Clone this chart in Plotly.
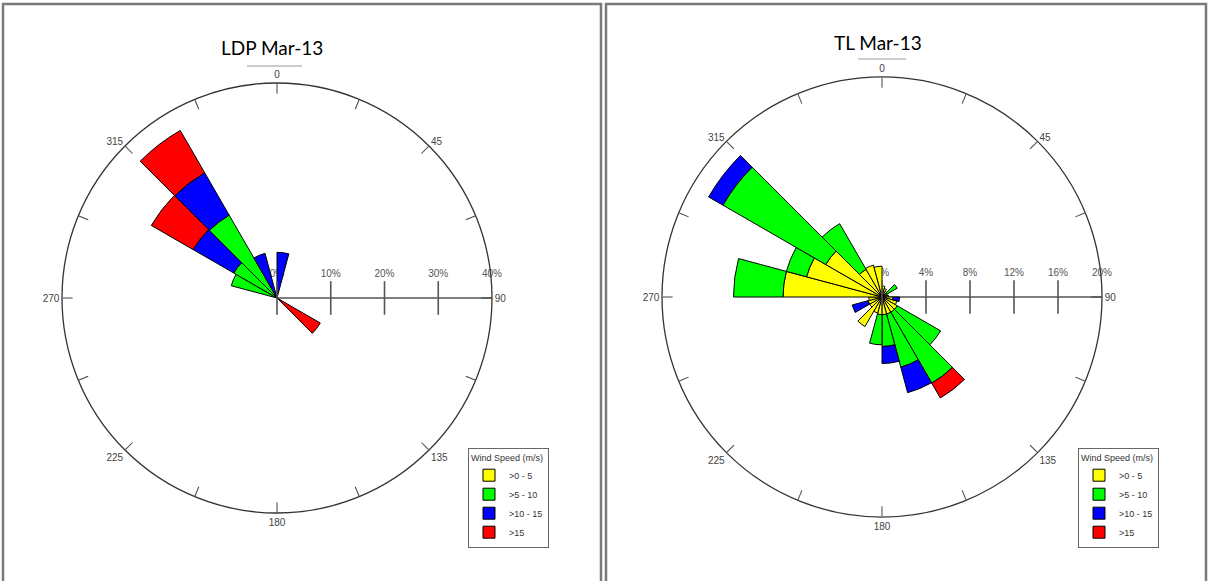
import plotly.graph_objects as go

W, H = 1209, 581

# ---- wind rose data: percent of time per 15-degree sector, by speed class ----
speed_classes = [">0 - 5", ">5 - 10", ">10 - 15", ">15"]
class_colors = ["#FFFF00", "#00FF00", "#0000FF", "#FF0000"]

# LDP (left rose)
ldp_dirs = [7.5, 127.5, 292.5, 307.5, 322.5, 337.5]
ldp_0_5 = [0, 0, 0, 0, 0, 0]
ldp_5_10 = [0, 0, 8.8, 9.3, 17.8, 0]
ldp_10_15 = [8.5, 0, 0, 8.7, 9.1, 8.6]
ldp_15 = [0, 9.3, 0, 9.0, 9.1, 0]

# TL (right rose)
tl_dirs = [7.5, 22.5, 37.5, 52.5, 67.5, 82.5, 97.5, 112.5, 127.5, 142.5, 157.5, 172.5,
           187.5, 202.5, 217.5, 232.5, 247.5, 262.5, 277.5, 292.5, 307.5, 322.5, 337.5, 352.5]
tl_0_5 = [1.0, 0.8, 0.6, 0.5, 0.5, 0.6, 1.0, 1.4, 1.6, 1.6, 1.6, 1.6,
          1.6, 1.5, 3.1, 1.3, 1.3, 1.2, 9.0, 7.1, 5.9, 2.9, 3.0, 2.8]
tl_5_10 = [0, 0, 0, 1.1, 0, 0, 0, 0, 4.55, 7.45, 5.0, 2.9,
           2.75, 0, 0, 0, 0, 0, 4.5, 1.9, 10.8, 4.8, 0, 0]
tl_10_15 = [0, 0, 0, 0, 0, 0, 0.6, 0, 0, 0, 2.4, 1.55,
            0, 0, 0, 0, 1.5, 0, 0, 0, 1.5, 0, 0, 0]
tl_15 = [0, 0, 0, 0, 0, 0, 0, 0, 0, 1.55, 0, 0,
         0, 0, 0, 0, 0, 0, 0, 0, 0, 0, 0, 0]

ldp_rticks = [0, 10, 20, 30, 40]
tl_rticks = [0, 4, 8, 12, 16, 20]
compass_ticks = [0, 22.5, 45, 67.5, 90, 112.5, 135, 157.5, 180,
                 202.5, 225, 247.5, 270, 292.5, 315, 337.5]
compass_text = ["0", "", "45", "", "90", "", "135", "", "180",
                "", "225", "", "270", "", "315", ""]

titles = ["LDP Mar-13", "TL Mar-13"]


def px(x):
    return x / W


def py(y):
    return 1 - y / H


fig = go.Figure()

panels = [
    ("polar", "legend", ldp_dirs, [ldp_0_5, ldp_5_10, ldp_10_15, ldp_15]),
    ("polar2", "legend2", tl_dirs, [tl_0_5, tl_5_10, tl_10_15, tl_15]),
]
for subplot, legend_name, dirs, series in panels:
    for name, color, values in zip(speed_classes, class_colors, series):
        fig.add_trace(go.Barpolar(
            theta=dirs, r=values, width=15, name=name,
            marker=dict(color=color, line=dict(color="black", width=1)),
            subplot=subplot, legend=legend_name,
        ))

# crossing tick marks along the radial (east) axis
for subplot, ticks in (("polar", ldp_rticks), ("polar2", tl_rticks)):
    fig.add_trace(go.Scatterpolar(
        r=ticks[:-1], theta=[90] * (len(ticks) - 1), mode="markers",
        marker=dict(symbol="line-ns", size=24, line=dict(color="#555555", width=1.6)),
        subplot=subplot, showlegend=False, hoverinfo="skip",
    ))


def polar_layout(cx, cy, rad, rticks):
    return dict(
        domain=dict(x=[px(cx - rad), px(cx + rad)], y=[py(cy + rad), py(cy - rad)]),
        bgcolor="white",
        barmode="stack",
        angularaxis=dict(
            direction="clockwise", rotation=90, thetaunit="degrees",
            tickmode="array", tickvals=compass_ticks, ticktext=compass_text,
            ticks="inside", ticklen=10, tickwidth=1.2, tickcolor="#444444",
            showline=True, linecolor="#333333", linewidth=1.3, showgrid=False,
            tickfont=dict(family="Liberation Sans, Arial", size=10, color="#444444"),
        ),
        radialaxis=dict(
            range=[0, rticks[-1]], angle=0, side="counterclockwise",
            tickmode="array", tickvals=rticks, ticktext=[f"{t}%" for t in rticks],
            ticks="outside", ticklen=16, tickcolor="rgba(0,0,0,0)",
            showline=True, linecolor="#555555", linewidth=1.4,
            showgrid=False, layer="below traces",
            tickfont=dict(family="Liberation Sans, Arial", size=10, color="#555555"),
        ),
    )


legend_style = dict(
    bgcolor="white", bordercolor="#666666", borderwidth=1,
    font=dict(family="Liberation Sans, Arial", size=9, color="#333333"),
    title=dict(text="Wind Speed (m/s)", font=dict(family="Liberation Sans, Arial", size=9, color="#333333")),
    xanchor="left", yanchor="top", tracegroupgap=0, itemclick=False,
)

shapes = [
    # panel frames
    dict(type="rect", xref="paper", yref="paper", x0=px(3), x1=px(601), y0=py(4), y1=py(590),
         line=dict(color="#7a7a7a", width=2.5)),
    dict(type="rect", xref="paper", yref="paper", x0=px(606), x1=px(1206), y0=py(4), y1=py(590),
         line=dict(color="#7a7a7a", width=2.5)),
    # short rules above the north labels
    dict(type="line", xref="paper", yref="paper", x0=px(247), x1=px(302), y0=py(66), y1=py(66),
         line=dict(color="#9a9a9a", width=1)),
    dict(type="line", xref="paper", yref="paper", x0=px(858), x1=px(906), y0=py(59), y1=py(59),
         line=dict(color="#9a9a9a", width=1)),
]

annotations = [
    dict(text=titles[0], x=px(272), y=py(48), xref="paper", yref="paper", showarrow=False,
         xanchor="center", yanchor="middle",
         font=dict(family="Lato, Noto Sans", size=19, color="black")),
    dict(text=titles[1], x=px(878), y=py(42), xref="paper", yref="paper", showarrow=False,
         xanchor="center", yanchor="middle",
         font=dict(family="Lato, Noto Sans", size=19, color="black")),
]

fig.update_layout(
    width=W, height=H, margin=dict(l=0, r=0, t=0, b=0),
    paper_bgcolor="white", plot_bgcolor="white",
    polar=polar_layout(277, 298, 215, ldp_rticks),
    polar2=polar_layout(882, 297, 220, tl_rticks),
    legend=dict(x=px(468), y=py(448), **legend_style),
    legend2=dict(x=px(1078), y=py(448), **legend_style),
    shapes=shapes, annotations=annotations,
)

fig.write_html("out.html")
